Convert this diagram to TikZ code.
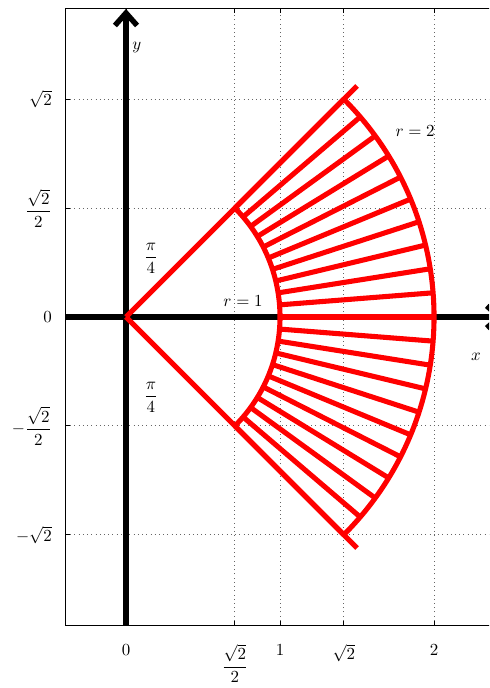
\documentclass[tikz,border=0pt]{standalone}
\usepackage{amsmath,amssymb}
\usetikzlibrary{arrows.meta}

\begin{document}
\begin{tikzpicture}[>={Straight Barb[length=2.6mm, width=4.6mm]}, scale=3.2,
    gridline/.style={dotted, gray!80!black, line width=0.5pt},
    axisline/.style={->, line width=3.2pt},
    sector/.style={red, line width=3pt},
    ticklab/.style={inner sep=0pt}]

    % --- 图幅 ---
    \useasboundingbox (-0.818, -2.409) rectangle (2.357, 2.058);
    \clip (-0.818, -2.409) rectangle (2.357, 2.058);

    % --- 网格 (虚点线) ---
    \foreach \x in {0.7071, 1, 1.4142, 2}
        \draw[gridline] (\x, -2) -- (\x, 2);
    \foreach \y in {-1.4142, -0.7071, 0.7071, 1.4142}
        \draw[gridline] (-0.39, \y) -- (2.4, \y);

    % --- 边框与刻度 ---
    \draw[line width=0.6pt] (-0.39, -2) rectangle (2.4, 2);
    \foreach \x in {0, 0.7071, 1, 1.4142, 2} {
        \draw[line width=0.5pt] (\x, -2) -- ++(0, 0.028);
        \draw[line width=0.5pt] (\x, 2) -- ++(0, -0.028);
    }
    \foreach \y in {-1.4142, -0.7071, 0, 0.7071, 1.4142}
        \draw[line width=0.5pt] (-0.39, \y) -- ++(0.028, 0);

    % --- 坐标轴 ---
    \coordinate (O) at (0, 0);
    \draw[axisline] (-0.39, 0) -- (2.45, 0);
    \draw[axisline] (0, -2) -- (0, 2);
    \node (xlab) at (2.273, -0.26) {$x$};
    \node (ylab) at (0.071, 1.747) {$y$};

    % --- 扇形区域 r in [1,2], theta in [-pi/4, pi/4] ---
    \coordinate (TopEnd) at (1.5, 1.5);
    \coordinate (BotEnd) at (1.5, -1.5);
    \draw[sector] (O) -- (TopEnd);
    \draw[sector] (O) -- (BotEnd);
    \draw[sector] (45:1) arc[start angle=45, end angle=-45, radius=1];
    \draw[sector] (45:2) arc[start angle=45, end angle=-45, radius=2];
    % 径向线, 步长 4.5 度
    \foreach \i in {0,...,20}
        \draw[sector] ({-45+4.5*\i}:1) -- ({-45+4.5*\i}:2);

    % --- 标注 ---
    \node (rone) at (0.76, 0.104) {$r=1$};
    \node (rtwo) at (1.877, 1.208) {$r=2$};
    \node (angup) at (0.162, 0.383) {$\dfrac{\pi}{4}$};
    \node (angdn) at (0.162, -0.52) {$\dfrac{\pi}{4}$};

    % --- 刻度标签 ---
    \node[ticklab, anchor=north] (xt0) at (0, -2.123) {$0$};
    \node[ticklab, anchor=north] (xt1) at (0.7071, -2.123) {$\dfrac{\sqrt{2}}{2}$};
    \node[ticklab, anchor=north] (xt2) at (1, -2.123) {$1$};
    \node[ticklab, anchor=north] (xt3) at (1.4142, -2.123) {$\sqrt{2}$};
    \node[ticklab, anchor=north] (xt4) at (2, -2.123) {$2$};

    \node[ticklab, anchor=east] (yt0) at (-0.48, 1.4142) {$\sqrt{2}$};
    \node[ticklab, anchor=east] (yt1) at (-0.48, 0.7071) {$\dfrac{\sqrt{2}}{2}$};
    \node[ticklab, anchor=east] (yt2) at (-0.48, 0) {$0$};
    \node[ticklab, anchor=east] (yt3) at (-0.48, -0.7071) {$-\dfrac{\sqrt{2}}{2}$};
    \node[ticklab, anchor=east] (yt4) at (-0.48, -1.4142) {$-\sqrt{2}$};

\end{tikzpicture}
\end{document}
